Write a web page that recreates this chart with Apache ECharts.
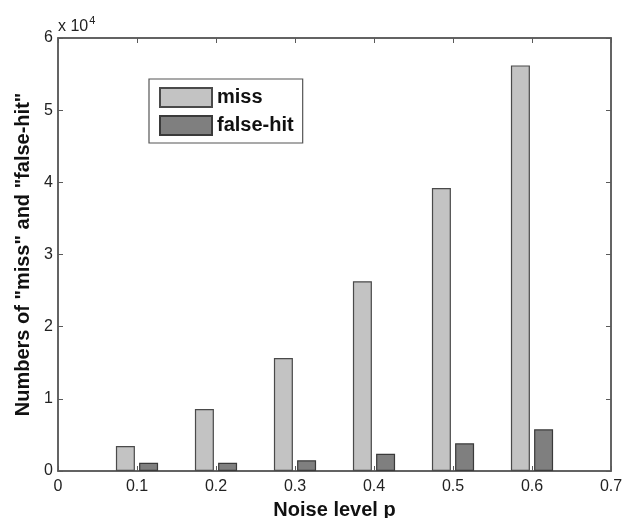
<!DOCTYPE html>
<html>
<head>
<meta charset="utf-8">
<script src="https://cdn.jsdelivr.net/npm/echarts@6/dist/echarts.min.js"></script>
<style>
  html, body { margin: 0; padding: 0; background: #fff; }
  #chart { width: 635px; height: 518px; }
</style>
</head>
<body>
<div id="chart"></div>
<script>
// 数据 ===============================================================
var noiseLevels = [0.1, 0.2, 0.3, 0.4, 0.5, 0.6];
var missValues = [3450, 8600, 15650, 26300, 39200, 56200];
var falseHitValues = [1150, 1150, 1480, 2400, 3830, 5770];
var seriesNames = ['miss', 'false-hit'];

function pairs(xs, ys) {
    return xs.map(function(x, i) {
        return [x, ys[i]];
    });
}

var font = 'Liberation Sans, Arial, Helvetica, sans-serif';
var axisColor = '#5a5a5a';
var lineStyle = { show: true, onZero: false, lineStyle: { color: axisColor, width: 1.5 } };
var tickStyle = { show: true, inside: true, length: 5, lineStyle: { color: axisColor, width: 1 } };

var chart = echarts.init(document.getElementById('chart'));
var option = {
    animation: false,
    backgroundColor: '#fff',
    grid: {
        left: 58,
        right: 24,
        top: 38,
        bottom: 47,
        containLabel: false,
        outerBoundsMode: 'none',
        show: true,
        borderColor: axisColor,
        borderWidth: 1.5,
        backgroundColor: 'transparent'
    },
    legend: {
        left: 149,
        top: 79,
        orient: 'vertical',
        data: seriesNames,
        icon: 'rect',
        itemWidth: 52,
        itemHeight: 19,
        itemGap: 7,
        padding: [8, 9, 7, 10],
        borderColor: '#555',
        borderWidth: 1.2,
        textStyle: {
            fontFamily: font,
            fontSize: 20,
            fontWeight: 'bold',
            color: '#111'
        }
    },
    xAxis: [
        {
            type: 'value',
            min: 0,
            max: 0.7,
            interval: 0.1,
            name: 'Noise level p',
            nameLocation: 'middle',
            nameGap: 29,
            nameTextStyle: { fontFamily: font, fontSize: 20, fontWeight: 'bold', color: '#111' },
            axisLine: lineStyle,
            axisTick: tickStyle,
            axisLabel: {
                fontFamily: font, fontSize: 16, color: '#222', margin: 8,
                formatter: function(v) { return v === 0 ? '0' : v.toFixed(1); }
            },
            splitLine: { show: false }
        },
        {
            type: 'value',
            position: 'top',
            min: 0,
            max: 0.7,
            interval: 0.1,
            axisLine: lineStyle,
            axisTick: tickStyle,
            axisLabel: { show: false },
            splitLine: { show: false }
        }
    ],
    yAxis: [
        {
            type: 'value',
            min: 0,
            max: 60000,
            interval: 10000,
            name: 'Numbers of "miss" and "false-hit"',
            nameLocation: 'middle',
            nameGap: 18,
            nameTextStyle: { fontFamily: font, fontSize: 20, fontWeight: 'bold', color: '#111' },
            axisLine: lineStyle,
            axisTick: tickStyle,
            axisLabel: {
                fontFamily: font, fontSize: 16, color: '#222', margin: 5,
                formatter: function(v) { return String(v / 10000); }
            },
            splitLine: { show: false }
        },
        {
            type: 'value',
            position: 'right',
            min: 0,
            max: 60000,
            interval: 10000,
            axisLine: lineStyle,
            axisTick: tickStyle,
            axisLabel: { show: false },
            splitLine: { show: false }
        }
    ],
    graphic: [
        {
            type: 'text',
            left: 58,
            top: 15,
            style: {
                text: '{b|x 10}{s|4}',
                rich: {
                    b: { fontFamily: font, fontSize: 16, fill: '#222', verticalAlign: 'bottom' },
                    s: { fontFamily: font, fontSize: 11, fill: '#222', padding: [0, 0, 9, 1] }
                }
            }
        }
    ],
    series: [
        {
            name: seriesNames[0],
            type: 'bar',
            barWidth: 19,
            barGap: '22%',
            data: pairs(noiseLevels, missValues),
            itemStyle: { color: '#c3c3c3', borderColor: '#4a4a4a', borderWidth: 1.2 }
        },
        {
            name: seriesNames[1],
            type: 'bar',
            barWidth: 19,
            barGap: '22%',
            data: pairs(noiseLevels, falseHitValues),
            itemStyle: { color: '#7f7f7f', borderColor: '#3a3a3a', borderWidth: 1.2 }
        },
        {
            // 空序列, 让顶部和右侧坐标轴显示刻度
            name: 'frame',
            type: 'line',
            xAxisIndex: 1,
            yAxisIndex: 1,
            data: [],
            silent: true
        }
    ]
};

chart.setOption(option);
</script>
</body>
</html>
